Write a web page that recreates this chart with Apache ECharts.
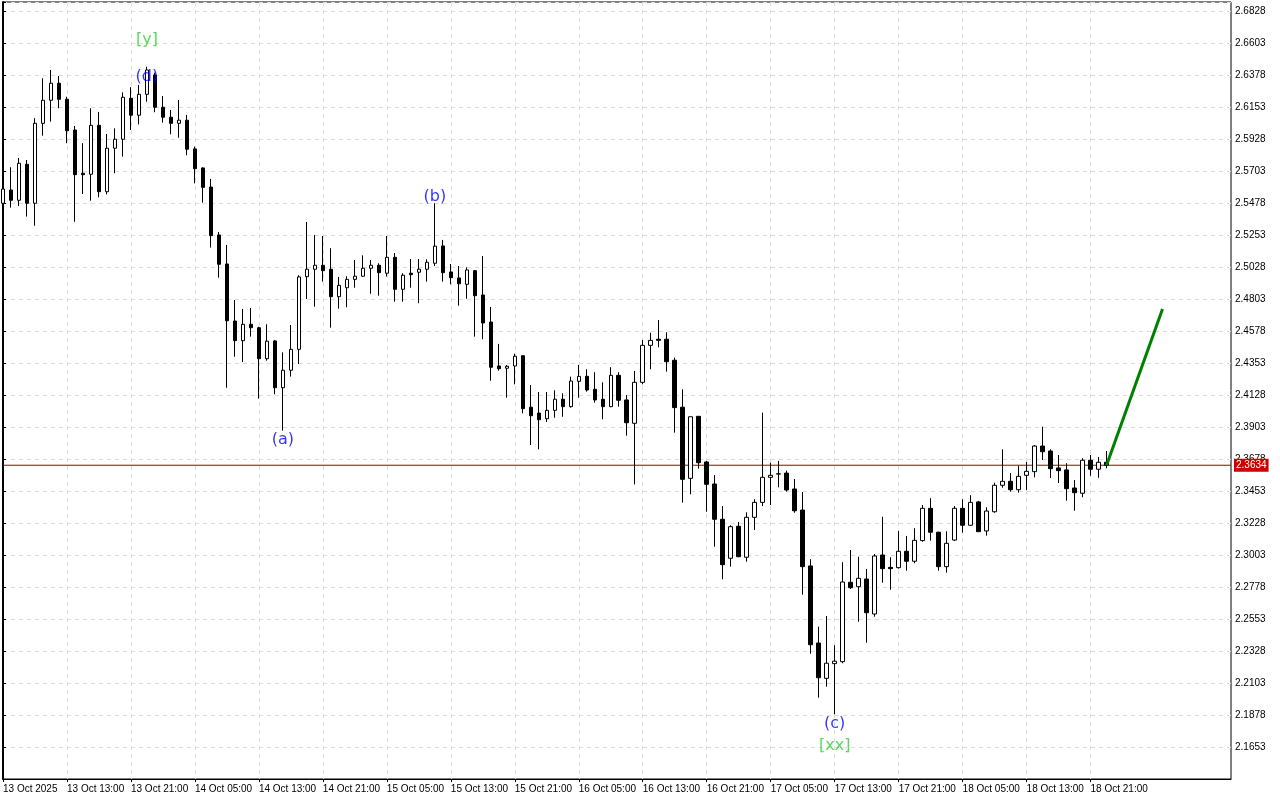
<!DOCTYPE html>
<html><head><meta charset="utf-8">
<script src="https://cdn.jsdelivr.net/npm/echarts@6/dist/echarts.min.js"></script>
<style>html,body{margin:0;padding:0;background:#fff}#c{width:1280px;height:800px}</style>
</head><body><div id="c"></div>
<script>
// Hourly candles, 13 Oct 05:00 .. 18 Oct 23:00 (index = hour offset)
const opens = [
2.5476,2.5569,2.5497,2.5750,2.5476,2.6038,2.6200,2.6320,2.6207,2.5991,
2.5687,2.5680,2.6024,2.5557,2.5863,2.5926,2.6214,2.6095,2.6242,2.6378,
2.6151,2.6081,2.6038,2.6060,2.5858,2.5724,2.5590,2.5253,2.5049,2.4648,
2.4510,2.4625,2.4601,2.4383,2.4508,2.4179,2.4302,2.4449,2.4960,2.5012,
2.5040,2.5012,2.4819,2.4882,2.4941,2.4963,2.5019,2.5040,2.4984,2.5096,
2.4871,2.4984,2.4991,2.5012,2.5054,2.5176,2.4993,2.4951,2.4906,2.5002,
2.4831,2.4641,2.4332,2.4316,2.4332,2.4404,2.4042,2.4001,2.3961,2.4020,
2.4098,2.4046,2.4224,2.4259,2.4168,2.4098,2.4046,2.4266,2.4093,2.3929,
2.4217,2.4477,2.4520,2.4520,2.4372,2.4042,2.3542,2.3978,2.3657,2.3502,
2.3254,2.2980,2.3205,2.2987,2.3268,2.3373,2.3549,2.3572,2.3579,2.3467,
2.3319,2.2926,2.2384,2.2136,2.2239,2.2253,2.2811,2.2780,2.2834,2.2588,
2.3003,2.2916,2.2914,2.3029,2.2959,2.3104,2.3331,2.3163,2.2921,2.3108,
2.3331,2.3212,2.3376,2.3172,2.3307,2.3493,2.3521,2.3462,2.3563,2.3589,
2.3769,2.3734,2.3615,2.3601,2.3474,2.3437,2.3669,2.3606,2.3655];
const closes = [
2.5576,2.5497,2.5757,2.5476,2.6038,2.6200,2.6320,2.6207,2.5986,2.5677,
2.5677,2.6024,2.5557,2.5863,2.5926,2.6221,2.6095,2.6242,2.6413,2.6151,
2.6081,2.6038,2.6060,2.5856,2.5719,2.5588,2.5248,2.5047,2.4650,2.4510,
2.4625,2.4601,2.4383,2.4506,2.4179,2.4302,2.4449,2.4958,2.5012,2.5040,
2.5002,2.4819,2.4899,2.4941,2.4963,2.5019,2.5040,2.4988,2.5096,2.4871,
2.4970,2.4974,2.5012,2.5061,2.5174,2.4988,2.4953,2.4910,2.5007,2.4826,
2.4634,2.4323,2.4313,2.4330,2.4400,2.4032,2.3982,2.3954,2.4020,2.4098,
2.4046,2.4226,2.4259,2.4163,2.4093,2.4046,2.4266,2.4091,2.3933,2.4217,
2.4477,2.4512,2.4512,2.4362,2.4039,2.3535,2.3975,2.3652,2.3500,2.3254,
2.2935,2.3202,2.2991,2.3268,2.3373,2.3549,2.3563,2.3574,2.3460,2.3314,
2.2921,2.2372,2.2140,2.2242,2.2256,2.2813,2.2773,2.2839,2.2597,2.2996,
2.2907,2.2907,2.3029,2.2959,2.3106,2.3331,2.3163,2.2921,2.3085,2.3331,
2.3212,2.3373,2.3167,2.3312,2.3493,2.3521,2.3462,2.3556,2.3591,2.3769,
2.3729,2.3610,2.3596,2.3469,2.3441,2.3669,2.3606,2.3655,2.3634];
const lows = [
2.5464,2.5445,2.5457,2.5382,2.5318,2.5951,2.6050,2.6144,2.5898,2.5346,
2.5541,2.5494,2.5518,2.5539,2.5687,2.5804,2.5991,2.6031,2.6190,2.6116,
2.6043,2.5961,2.5937,2.5813,2.5616,2.5480,2.5164,2.4953,2.4179,2.4397,
2.4360,2.4538,2.4102,2.4369,2.4133,2.3877,2.4257,2.4346,2.4803,2.4749,
2.4925,2.4601,2.4735,2.4745,2.4882,2.4958,2.4840,2.4826,2.4960,2.4784,
2.4784,2.4882,2.4773,2.4925,2.5035,2.4925,2.4906,2.4756,2.4805,2.4538,
2.4520,2.4228,2.4299,2.4109,2.4203,2.3999,2.3776,2.3746,2.3938,2.3968,
2.3975,2.4039,2.4109,2.4151,2.4074,2.3957,2.4042,2.4046,2.3842,2.3500,
2.4203,2.4309,2.4463,2.4292,2.3863,2.3371,2.3430,2.3610,2.3307,2.3061,
2.2832,2.2921,2.2987,2.2956,2.3179,2.3347,2.3354,2.3479,2.3448,2.3300,
2.2724,2.2309,2.2000,2.2077,2.1883,2.2242,2.2764,2.2534,2.2386,2.2569,
2.2808,2.2759,2.2907,2.2893,2.2945,2.3096,2.3104,2.2893,2.2879,2.3101,
2.3160,2.3210,2.3165,2.3139,2.3300,2.3476,2.3448,2.3441,2.3460,2.3549,
2.3671,2.3544,2.3509,2.3385,2.3314,2.3409,2.3560,2.3546,2.3613];
const highs = [
2.5590,2.5729,2.5794,2.5780,2.6074,2.6355,2.6413,2.6371,2.6225,2.6019,
2.5898,2.6144,2.6118,2.5963,2.6003,2.6256,2.6292,2.6308,2.6436,2.6394,
2.6230,2.6132,2.6202,2.6097,2.5874,2.5729,2.5647,2.5274,2.5183,2.4796,
2.4733,2.4740,2.4608,2.4625,2.4515,2.4428,2.4620,2.4970,2.5344,2.5253,
2.5246,2.5160,2.4958,2.4963,2.5077,2.5110,2.5077,2.5054,2.5246,2.5126,
2.4984,2.5084,2.5084,2.5082,2.5476,2.5218,2.5049,2.5035,2.5026,2.5007,
2.5105,2.4747,2.4487,2.4339,2.4418,2.4404,2.4198,2.4149,2.4149,2.4161,
2.4140,2.4257,2.4339,2.4309,2.4288,2.4217,2.4323,2.4288,2.4128,2.4297,
2.4515,2.4566,2.4655,2.4569,2.4390,2.4168,2.3975,2.3978,2.3664,2.3565,
2.3347,2.3212,2.3235,2.3303,2.3395,2.4004,2.3652,2.3664,2.3596,2.3537,
2.3446,2.2973,2.2499,2.2574,2.2368,2.2952,2.3038,2.2991,2.2905,2.3010,
2.3272,2.2987,2.3172,2.3137,2.3191,2.3354,2.3402,2.3167,2.3170,2.3347,
2.3395,2.3423,2.3383,2.3338,2.3511,2.3746,2.3579,2.3631,2.3657,2.3776,
2.3905,2.3746,2.3706,2.3648,2.3530,2.3683,2.3706,2.3692,2.3734];

// time-axis labels, one every 8 candles
const timeLabels = ['13 Oct 2025','13 Oct 13:00','13 Oct 21:00','14 Oct 05:00','14 Oct 13:00','14 Oct 21:00',
  '15 Oct 05:00','15 Oct 13:00','15 Oct 21:00','16 Oct 05:00','16 Oct 13:00','16 Oct 21:00',
  '17 Oct 05:00','17 Oct 13:00','17 Oct 21:00','18 Oct 05:00','18 Oct 13:00','18 Oct 21:00'];
const lastPrice = 2.3634;
// projected move (index, price)
const projIdx = [138, 145];
const projPrice = [2.3634, 2.4733];
// wave labels
const waveText  = ['[y]', '(d)', '(a)', '(b)', '(c)', '[xx]'];
const waveIdx   = [18, 18, 35, 54, 104, 104];
const wavePrice = [2.6624, 2.6364, 2.3812, 2.5520, 2.1815, 2.1660];
const waveKind  = ['major','minor','minor','minor','minor','major'];

const Y_MIN = 2.1428, Y_MAX = 2.6891, Y_STEP = 0.0225;
const X_MAX = 153.5625;
const FONT = 'Liberation Sans';
const dashed = {color:'#dcdcdc', type:[4,4], width:1};

const candleData = opens.map((o,i)=>[i, o, closes[i], lows[i], highs[i]]);
const labelIdx = timeLabels.map((_,j)=>j*8);

const chart = echarts.init(document.getElementById('c'));
chart.setOption({
  animation:false,
  backgroundColor:'#ffffff',
  grid:{left:2.5, right:49, top:2, bottom:21, show:true, borderColor:'#000', borderWidth:1},
  xAxis:{type:'value', min:0, max:X_MAX, interval:4,
    axisLine:{show:true, onZero:false, lineStyle:{color:'#000', width:1}},
    axisTick:{show:true, length:3, customValues:labelIdx, lineStyle:{color:'#000'}},
    axisLabel:{customValues:labelIdx, formatter:v=>timeLabels[Math.round(v/8)]||'', align:'left',
      color:'#000', fontSize:10, fontFamily:FONT, margin:5},
    splitLine:{show:true, lineStyle:dashed}},
  yAxis:{type:'value', position:'right', min:Y_MIN, max:Y_MAX, interval:Y_STEP,
    axisLine:{show:true, lineStyle:{color:'#000', width:2}},
    axisTick:{show:true, length:3, lineStyle:{color:'#000'}},
    axisLabel:{formatter:v=>(v < Y_MIN+0.001 || v > Y_MAX-0.003) ? '' : v.toFixed(4),
      color:'#000', fontSize:10, fontFamily:FONT, margin:4},
    splitLine:{show:true, lineStyle:dashed}},
  series:[
    {type:'line', data:[[0, lastPrice],[X_MAX, lastPrice]], symbol:'none', silent:true, z:1,
      lineStyle:{color:'#a00000', width:1},
      endLabel:{show:true, formatter:lastPrice.toFixed(4), backgroundColor:'#cc0000', color:'#fff',
        fontSize:10, fontFamily:FONT, padding:[2,2,1,2], distance:3}},
    {type:'candlestick', data:candleData, encode:{x:0, y:[1,2,3,4]}, barWidth:4, z:2,
      itemStyle:{color:'#ffffff', color0:'#000000', borderColor:'#000000', borderColor0:'#000000', borderWidth:1}},
    {type:'line', data:projIdx.map((x,i)=>[x, projPrice[i]]), symbol:'none',
      lineStyle:{color:'#008000', width:3}, z:5},
    {type:'scatter', symbolSize:0, z:6,
      data:waveText.map((t,i)=>({value:[waveIdx[i], wavePrice[i]],
        label:{show:true, position:'inside', formatter:t,
          color: waveKind[i]==='major' ? '#32cd32' : '#0000ff',
          fontSize:16, fontFamily:'DejaVu Sans'}}))}
  ]
});
</script></body></html>
